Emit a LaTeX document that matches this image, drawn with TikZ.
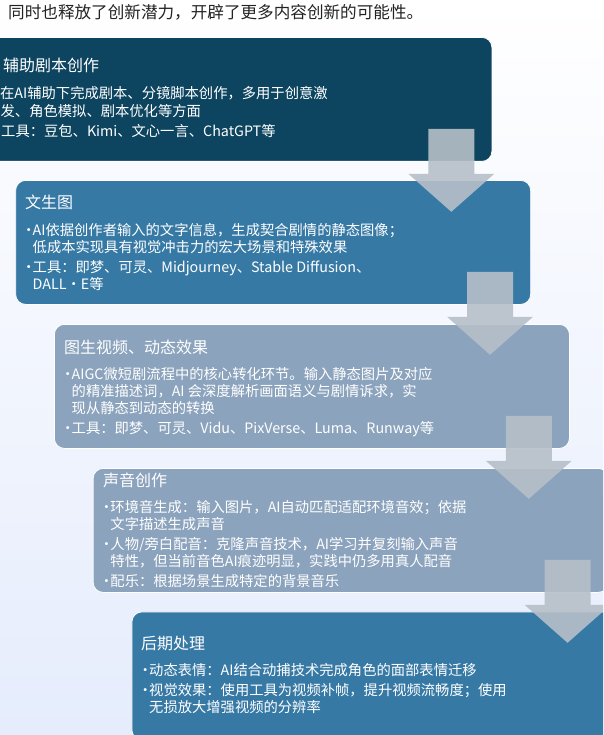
\documentclass[tikz,border=0pt]{standalone}
\usepackage{fontspec}
\setmainfont{Noto Sans CJK SC}
\usetikzlibrary{calc}
\definecolor{bgbottom}{RGB}{229,236,252}
\definecolor{boxdark}{RGB}{13,69,96}
\definecolor{boxmid}{RGB}{54,121,165}
\definecolor{boxlight}{RGB}{139,163,189}
\definecolor{arrowgray}{RGB}{182,191,200}
\definecolor{toptext}{RGB}{35,35,35}
\newcommand\dnarrow[1]{%
  \fill[arrowfill] ($(#1.south east)+(-64,-33)$) -- ($(#1.south east)+(-18,-33)$)
    -- ($(#1.south east)+(-18,12)$) -- ($(#1.south east)+(2,12)$)
    -- ($(#1.south east)+(-41,50)$) -- ($(#1.south east)+(-84,12)$)
    -- ($(#1.south east)+(-64,12)$) -- cycle;}
\newcommand\bul[1]{\makebox[8pt][c]{•}#1}
\begin{document}
\begin{tikzpicture}[x=1pt,y=-1pt,
  stepbox/.style={draw=white, line width=0.8pt, rounded corners=10pt, anchor=north west,
    minimum width=515pt, minimum height=124pt, inner sep=0pt},
  ttl/.style={anchor=base west, inner sep=0pt, text=white, font=\fontsize{16}{18}\selectfont},
  txt/.style={anchor=base west, inner sep=0pt, text=white, font=\fontsize{14.3}{16}\selectfont},
  arrowfill/.style={fill=arrowgray, fill opacity=0.9}]
\useasboundingbox (0,0) rectangle (603,735);
\clip (0,0) rectangle (603,735);
\shade[top color=white, bottom color=bgbottom] (0,0) rectangle (603,735);

\node[anchor=base west, inner sep=0pt, text=toptext, font=\fontsize{16.6}{18}\selectfont] (top) at (8,18.5) {同时也释放了创新潜力，开辟了更多内容创新的可能性。};

% boxes
\node[stepbox, fill=boxdark] (b1) at (-23.5,37) {};
\node[stepbox, fill=boxmid] (b2) at (15.25,180) {};
\node[stepbox, fill=boxlight] (b3) at (54,324) {};
\node[stepbox, fill=boxlight] (b4) at (92.75,468) {};
\node[stepbox, fill=boxmid, minimum height=128pt] (b5) at (131.5,611.5) {};

% box 1 text
\node[ttl] (t1) at (3,71.5) {辅助剧本创作};
\node[txt] (t1a) at (0,98.8) {在AI辅助下完成剧本、分镜脚本创作，多用于创意激};
\node[txt] (t1b) at (0.5,116.8) {发、角色模拟、剧本优化等方面};
\node[txt] (t1c) at (1,136.8) {工具：豆包、Kimi、文心一言、ChatGPT等};

% box 2 text
\node[ttl] (t2) at (25,209) {文生图};
\node[txt] (t2a) at (24.5,235.3) {\bul{AI依据创作者输入的文字信息，生成契合剧情的静态图像；}};
\node[txt] (t2b) at (32.5,252.3) {低成本实现具有视觉冲击力的宏大场景和特殊效果};
\node[txt] (t2c) at (24.5,272.3) {\bul{工具：即梦、可灵、Midjourney、Stable Diffusion、}};
\node[txt] (t2d) at (32.5,289.3) {DALL·E等};

% box 3 text
\node[ttl] (t3) at (64,353) {图生视频、动态效果};
\node[txt] (t3a) at (63.5,379.3) {\bul{AIGC微短剧流程中的核心转化环节。输入静态图片及对应}};
\node[txt] (t3b) at (71.5,396.3) {的精准描述词，AI 会深度解析画面语义与剧情诉求，实};
\node[txt] (t3c) at (71.5,413.3) {现从静态到动态的转换};
\node[txt] (t3d) at (63.5,433.3) {\bul{工具：即梦、可灵、Vidu、PixVerse、Luma、Runway等}};

% box 4 text
\node[ttl] (t4) at (103,486) {声音创作};
\node[txt] (t4a) at (102.25,512.3) {\bul{环境音生成：输入图片，AI自动匹配适配环境音效；依据}};
\node[txt] (t4b) at (110.25,529.3) {文字描述生成声音};
\node[txt] (t4c) at (102.25,549.3) {\bul{人物/旁白配音：克隆声音技术，AI学习并复刻输入声音}};
\node[txt] (t4d) at (110.25,566.3) {特性，但当前音色AI痕迹明显，实践中仍多用真人配音};
\node[txt] (t4e) at (102.25,586.3) {\bul{配乐：根据场景生成特定的背景音乐}};

% box 5 text
\node[ttl] (t5) at (141,649) {后期处理};
\node[txt] (t5a) at (141,675.8) {\bul{动态表情：AI结合动捕技术完成角色的面部表情迁移}};
\node[txt] (t5b) at (141,695.3) {\bul{视觉效果：使用工具为视频补帧，提升视频流畅度；使用}};
\node[txt] (t5c) at (149,712.3) {无损放大增强视频的分辨率};

% arrows
\dnarrow{b1}
\dnarrow{b2}
\dnarrow{b3}
\dnarrow{b4}
\end{tikzpicture}
\end{document}
